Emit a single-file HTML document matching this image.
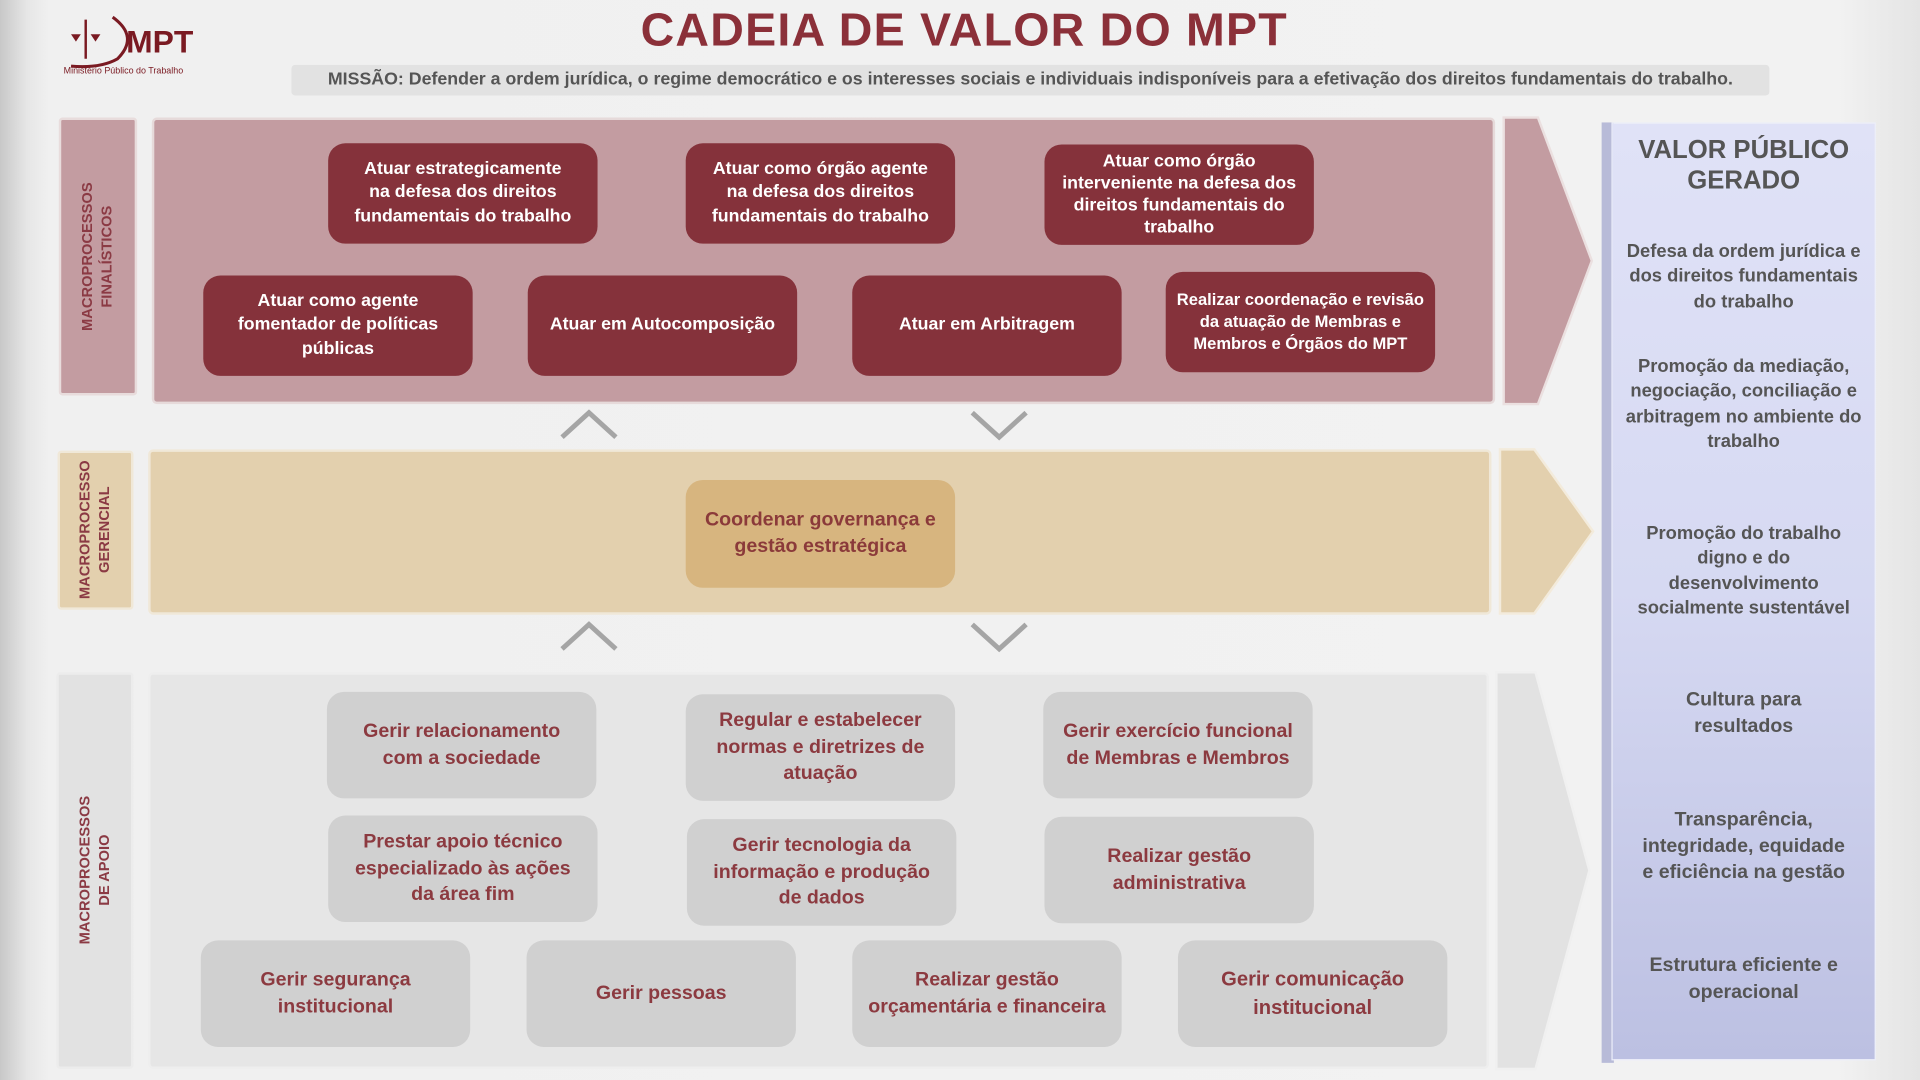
<!DOCTYPE html>
<html><head><meta charset="utf-8"><style>
*{margin:0;padding:0;box-sizing:border-box}
body{width:1920px;height:1080px;overflow:hidden;background:#efefef;font-family:"Liberation Sans",sans-serif}
#w{position:absolute;left:0;top:0;width:1568px;height:882px;transform:scale(1.22449);transform-origin:0 0;background:linear-gradient(90deg,#c8c8c8 0,#e6e6e6 22px,#f0f0f0 40px,#f2f2f2 1500px,#e4e4e4 1568px)}
.a{position:absolute}
.n{position:absolute;display:flex;align-items:center;justify-content:center;text-align:center;font-weight:bold;border-radius:14px;line-height:1.35}
.r{background:#85323b;color:#fff;font-size:14.5px}
.g{background:#d0d0d0;color:#8c3a40;font-size:16px}
.lab{position:absolute;display:flex;align-items:center;justify-content:center;border-radius:3px}
.lab span{transform:rotate(-90deg);white-space:nowrap;text-align:center;font-size:12px;font-weight:bold;line-height:1.3}
.v{position:absolute;left:1316px;width:216px;text-align:center;color:#555;font-weight:bold;font-size:15px;line-height:1.35}
</style></head><body><div id="w">
<svg class="a" style="left:50px;top:10px" width="120" height="56">
<path d="M42 4 Q64 20 46 38 Q32 46 8 44" stroke="#7a1a22" stroke-width="2.5" fill="none"/>
<line x1="20" y1="6" x2="20" y2="38" stroke="#7a1a22" stroke-width="2"/>
<polygon points="8,18 16,18 12,24" fill="#7a1a22"/><polygon points="24,18 32,18 28,24" fill="#7a1a22"/>
<text x="53" y="33" font-family="Liberation Sans" font-weight="bold" font-size="26" fill="#7a1a22">MPT</text>
<text x="2" y="50" font-family="Liberation Sans" font-size="7.3" fill="#7a1a22">Ministério Público do Trabalho</text>
</svg>
<div class="a" style="left:300px;top:4px;width:975px;text-align:center;font-size:38px;font-weight:bold;color:#8b3039;letter-spacing:1px">CADEIA DE VALOR DO MPT</div>
<div class="a" style="left:238px;top:53px;width:1207px;height:25px;background:#e2e2e2;border-radius:3px;text-align:center;font-size:14.5px;font-weight:bold;color:#555;line-height:25px">MISSÃO: Defender a ordem jurídica, o regime democrático e os interesses sociais e individuais indisponíveis para a efetivação dos direitos fundamentais do trabalho.</div>

<div class="lab" style="left:48px;top:96px;width:64px;height:227px;background:#c39ca1;border:2px solid #e8dcdc"><span style="color:#8b3a44">MACROPROCESSOS<br>FINALÍSTICOS</span></div>
<div class="a" style="left:124px;top:96px;width:1097px;height:234px;background:#c39ca1;border:2px solid #e6dada;border-radius:4px"></div>
<svg class="a" style="left:1226px;top:94px" width="80" height="240"><polygon points="2,2 30,2 74,119 30,236 2,236" fill="#c39ca1" stroke="#ebe0e0" stroke-width="2"/></svg>

<div class="n r" style="left:268px;top:117px;width:220px;height:82px">Atuar estrategicamente<br>na defesa dos direitos<br>fundamentais do trabalho</div>
<div class="n r" style="left:560px;top:117px;width:220px;height:82px">Atuar como órgão agente<br>na defesa dos direitos<br>fundamentais do trabalho</div>
<div class="n r" style="left:853px;top:118px;width:220px;height:82px;line-height:1.25">Atuar como órgão<br>interveniente na defesa dos<br>direitos fundamentais do<br>trabalho</div>
<div class="n r" style="left:166px;top:225px;width:220px;height:82px">Atuar como agente<br>fomentador de políticas<br>públicas</div>
<div class="n r" style="left:431px;top:225px;width:220px;height:82px">Atuar em Autocomposição</div>
<div class="n r" style="left:696px;top:225px;width:220px;height:82px">Atuar em Arbitragem</div>
<div class="n r" style="left:952px;top:222px;width:220px;height:82px;font-size:13.5px">Realizar coordenação e revisão<br>da atuação de Membras e<br>Membros e Órgãos do MPT</div>

<svg class="a" style="left:455px;top:333px" width="400" height="30"><polyline points="4,24 26,4 48,24" stroke="#a5a5a5" stroke-width="4" fill="none"/><polyline points="339,4 361,24 383,4" stroke="#a5a5a5" stroke-width="4" fill="none"/></svg>
<svg class="a" style="left:455px;top:506px" width="400" height="30"><polyline points="4,24 26,4 48,24" stroke="#a5a5a5" stroke-width="4" fill="none"/><polyline points="339,4 361,24 383,4" stroke="#a5a5a5" stroke-width="4" fill="none"/></svg>

<div class="lab" style="left:47px;top:368px;width:62px;height:130px;background:#e3d0ae;border:2px solid #f0e8d8"><span style="color:#8b3a44">MACROPROCESSO<br>GERENCIAL</span></div>
<div class="a" style="left:121px;top:367px;width:1097px;height:135px;background:#e3d0ae;border:2px solid #f0e8d8;border-radius:4px"></div>
<svg class="a" style="left:1223px;top:365px" width="84" height="140"><polygon points="2,2 30,2 78,69 30,136 2,136" fill="#e3d0ae" stroke="#f3ebdc" stroke-width="2"/></svg>
<div class="n" style="left:560px;top:392px;width:220px;height:88px;background:#d7b57f;color:#8b3a3a;font-size:16px">Coordenar governança e<br>gestão estratégica</div>

<div class="lab" style="left:46px;top:549px;width:63px;height:324px;background:#e2e2e2;border:2px solid #ececec"><span style="color:#8b3a44">MACROPROCESSOS<br>DE APOIO</span></div>
<div class="a" style="left:121px;top:549px;width:1095px;height:324px;background:#e6e6e6;border:2px solid #eeeeee;border-radius:4px"></div>
<svg class="a" style="left:1220px;top:547px" width="84" height="330"><polygon points="2,2 34,2 78,164 34,326 2,326" fill="#e2e2e2" stroke="#f0f0f0" stroke-width="2"/></svg>

<div class="n g" style="left:267px;top:565px;width:220px;height:87px">Gerir relacionamento<br>com a sociedade</div>
<div class="n g" style="left:560px;top:567px;width:220px;height:87px">Regular e estabelecer<br>normas e diretrizes de<br>atuação</div>
<div class="n g" style="left:852px;top:565px;width:220px;height:87px">Gerir exercício funcional<br>de Membras e Membros</div>
<div class="n g" style="left:268px;top:666px;width:220px;height:87px">Prestar apoio técnico<br>especializado às ações<br>da área fim</div>
<div class="n g" style="left:561px;top:669px;width:220px;height:87px">Gerir tecnologia da<br>informação e produção<br>de dados</div>
<div class="n g" style="left:853px;top:667px;width:220px;height:87px">Realizar gestão<br>administrativa</div>
<div class="n g" style="left:164px;top:768px;width:220px;height:87px">Gerir segurança<br>institucional</div>
<div class="n g" style="left:430px;top:768px;width:220px;height:87px">Gerir pessoas</div>
<div class="n g" style="left:696px;top:768px;width:220px;height:87px">Realizar gestão<br>orçamentária e financeira</div>
<div class="n g" style="left:962px;top:768px;width:220px;height:87px;font-size:16.5px">Gerir comunicação<br>institucional</div>

<div class="a" style="left:1308px;top:100px;width:10px;height:768px;background:#b8bbd8"></div>
<div class="a" style="left:1316px;top:100px;width:216px;height:766px;background:linear-gradient(180deg,#e0e2f7 0,#d6d9f2 50%,#bcc0e2 100%);border:1px solid #eceefa"></div>
<div class="v" style="top:110px;font-size:21px;line-height:1.2">VALOR PÚBLICO<br>GERADO</div>
<div class="v" style="top:196px">Defesa da ordem jurídica e<br>dos direitos fundamentais<br>do trabalho</div>
<div class="v" style="top:290px">Promoção da mediação,<br>negociação, conciliação e<br>arbitragem no ambiente do<br>trabalho</div>
<div class="v" style="top:426px">Promoção do trabalho<br>digno e do<br>desenvolvimento<br>socialmente sustentável</div>
<div class="v" style="top:561px;font-size:16px">Cultura para<br>resultados</div>
<div class="v" style="top:659px;font-size:16px">Transparência,<br>integridade, equidade<br>e eficiência na gestão</div>
<div class="v" style="top:778px;font-size:16px">Estrutura eficiente e<br>operacional</div>
</div></body></html>
